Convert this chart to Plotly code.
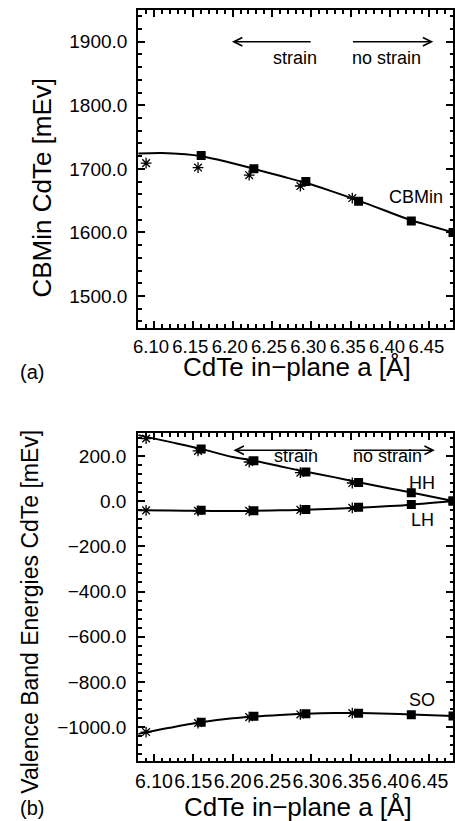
import plotly.graph_objects as go

# ---------------- data ----------------
# Panel (a): conduction band minimum
a_sq_x = [6.16, 6.227, 6.293, 6.36, 6.427, 6.48]
cbm_sq = [1721, 1700, 1680, 1649, 1618, 1600]
a_st_x = [6.09, 6.156, 6.221, 6.286, 6.352]
cbm_st = [1709, 1702, 1690, 1673, 1654]
fit_x = [6.08, 6.11, 6.14, 6.16, 6.19, 6.227, 6.26, 6.293, 6.33, 6.36, 6.39, 6.427, 6.455, 6.48]
cbm_fit = [1724, 1725, 1723, 1720, 1712, 1700, 1689, 1678, 1663, 1650, 1636, 1619, 1609, 1600]

# Panel (b): valence bands
hh_sq = [230, 178, 129, 82, 37, 0]
hh_st = [277, 222, 173, 126, 80]
lh_sq = [-41, -43, -37, -27, -15, 0]
lh_st = [-41, -43, -43, -39, -30]
so_sq = [-978, -952, -941, -939, -945, -951]
so_st = [-1022, -982, -956, -944, -938]
vb_fit_x = [6.08, 6.12, 6.16, 6.20, 6.227, 6.26, 6.293, 6.33, 6.36, 6.40, 6.427, 6.48]
hh_fit = [292, 262, 231, 195, 179, 154, 130, 105, 83, 56, 38, 0]
lh_fit = [-40, -42, -43, -44, -43, -41, -38, -34, -29, -22, -16, 0]
so_fit = [-1030, -1003, -979, -961, -953, -946, -941, -938, -938, -941, -944, -951]

W, H = 455, 821
FONT = "Liberation Sans, Arial, Helvetica, sans-serif"


def py(p):
    return 1 - p / H


def px(p):
    return p / W


fig = go.Figure()

line_style = dict(color="black", width=2, shape="spline")
sq_marker = dict(symbol="square", size=9, color="black")
st_marker = dict(symbol="asterisk-open", size=9, color="black", line=dict(color="black", width=1.3))

# panel a
fig.add_trace(go.Scatter(x=fit_x, y=cbm_fit, mode="lines", line=line_style, xaxis="x", yaxis="y"))
fig.add_trace(go.Scatter(x=a_st_x, y=cbm_st, mode="markers", marker=st_marker, xaxis="x", yaxis="y"))
fig.add_trace(go.Scatter(x=a_sq_x, y=cbm_sq, mode="markers", marker=sq_marker, xaxis="x", yaxis="y"))

# panel b
for fit, st, sq in [(hh_fit, hh_st, hh_sq), (lh_fit, lh_st, lh_sq), (so_fit, so_st, so_sq)]:
    fig.add_trace(go.Scatter(x=vb_fit_x, y=fit, mode="lines", line=line_style, xaxis="x2", yaxis="y2"))
    fig.add_trace(go.Scatter(x=a_st_x, y=st, mode="markers", marker=st_marker, xaxis="x2", yaxis="y2"))
    fig.add_trace(go.Scatter(x=a_sq_x, y=sq, mode="markers", marker=sq_marker, xaxis="x2", yaxis="y2"))

axis_common = dict(
    showline=True, linecolor="black", linewidth=2, mirror="ticks",
    ticks="inside", ticklen=7, tickwidth=1.5, tickcolor="black",
    showgrid=False, zeroline=False,
)


def tf(size):
    return dict(family=FONT, size=size, color="black")


xdom = [px(135), px(454)]
fig.update_layout(
    width=W, height=H,
    margin=dict(l=0, r=0, t=0, b=0),
    paper_bgcolor="white", plot_bgcolor="white",
    showlegend=False,
    font=dict(family=FONT, color="black"),
    xaxis=dict(domain=xdom, anchor="y", range=[6.08, 6.48], tick0=6.10, dtick=0.05, tickangle=0,
               tickformat=".2f", minor=dict(dtick=0.01, ticks="inside", ticklen=3.5, tickcolor="black"),
               ticklabelshift=-3, ticklabelstandoff=1, tickfont=tf(18.5), **axis_common),
    yaxis=dict(domain=[py(327.7), py(10)], anchor="x", range=[1450, 1950], tick0=1500, dtick=100,
               tickformat=".1f", minor=dict(dtick=20, ticks="inside", ticklen=3.5, tickcolor="black"),
               ticklabelstandoff=5, tickfont=tf(19), **axis_common),
    xaxis2=dict(domain=xdom, anchor="y2", range=[6.08, 6.48], tick0=6.10, dtick=0.05, tickangle=0,
                tickformat=".2f", minor=dict(dtick=0.01, ticks="inside", ticklen=3.5, tickcolor="black"),
                ticklabelstandoff=2, tickfont=tf(19.5), **axis_common),
    yaxis2=dict(domain=[py(761), py(433.3)], anchor="x2", range=[-1150, 300], tick0=0, dtick=200,
                tickformat=".1f", minor=dict(dtick=40, ticks="inside", ticklen=3.5, tickcolor="black"),
                ticklabelstandoff=6, tickfont=tf(19), **axis_common),
)

ann = []
# axis titles
ann.append(dict(text="CdTe in\u2212plane a [Å]", x=px(296), y=py(367), xref="paper", yref="paper",
                showarrow=False, font=dict(size=26), xanchor="center", yanchor="middle"))
ann.append(dict(text="CdTe in\u2212plane a [Å]", x=px(297), y=py(807), xref="paper", yref="paper",
                showarrow=False, font=dict(size=26), xanchor="center", yanchor="middle"))
ann.append(dict(text="CBMin CdTe [mEv]", x=px(37), y=py(188), xref="paper", yref="paper", textangle=-90,
                showarrow=False, font=dict(size=26), xanchor="center", yanchor="middle"))
ann.append(dict(text="Valence Band Energies CdTe [mEv]", x=px(25), y=py(612), xref="paper", yref="paper",
                textangle=-90, showarrow=False, font=dict(size=23), xanchor="center", yanchor="middle"))
ann.append(dict(text="(a)", x=px(27), y=py(372), xref="paper", yref="paper", showarrow=False,
                font=dict(size=20), xanchor="center", yanchor="middle"))
ann.append(dict(text="(b)", x=px(27), y=py(808), xref="paper", yref="paper", showarrow=False,
                font=dict(size=20), xanchor="center", yanchor="middle"))

# strain arrows and labels
arrow = dict(showarrow=True, arrowhead=5, arrowsize=1.3, arrowwidth=1.3, arrowcolor="black", text="")
ann.append(dict(x=6.199, y=1900, ax=6.301, ay=1900, xref="x", yref="y", axref="x", ayref="y", **arrow))
ann.append(dict(x=6.455, y=1900, ax=6.351, ay=1900, xref="x", yref="y", axref="x", ayref="y", **arrow))
ann.append(dict(x=6.201, y=225, ax=6.303, ay=225, xref="x2", yref="y2", axref="x2", ayref="y2", **arrow))
ann.append(dict(x=6.457, y=225, ax=6.352, ay=225, xref="x2", yref="y2", axref="x2", ayref="y2", **arrow))

lab = dict(showarrow=False, font=dict(size=18), xanchor="center", yanchor="middle")
ann.append(dict(text="strain", x=6.279, y=1875, xref="x", yref="y", **lab))
ann.append(dict(text="no strain", x=6.396, y=1875, xref="x", yref="y", **lab))
ann.append(dict(text="strain", x=6.280, y=198, xref="x2", yref="y2", **lab))
ann.append(dict(text="no strain", x=6.397, y=198, xref="x2", yref="y2", **lab))

ann.append(dict(text="CBMin", x=6.47, y=1655, xref="x", yref="y", showarrow=False, font=dict(size=18),
                xanchor="right", yanchor="middle"))
ann.append(dict(text="HH", x=6.46, y=78, xref="x2", yref="y2", showarrow=False, font=dict(size=18),
                xanchor="right", yanchor="middle"))
ann.append(dict(text="LH", x=6.459, y=-82, xref="x2", yref="y2", showarrow=False, font=dict(size=18),
                xanchor="right", yanchor="middle"))
ann.append(dict(text="SO", x=6.46, y=-878, xref="x2", yref="y2", showarrow=False, font=dict(size=18),
                xanchor="right", yanchor="middle"))

fig.update_layout(annotations=ann)

fig.write_html("out.html")
